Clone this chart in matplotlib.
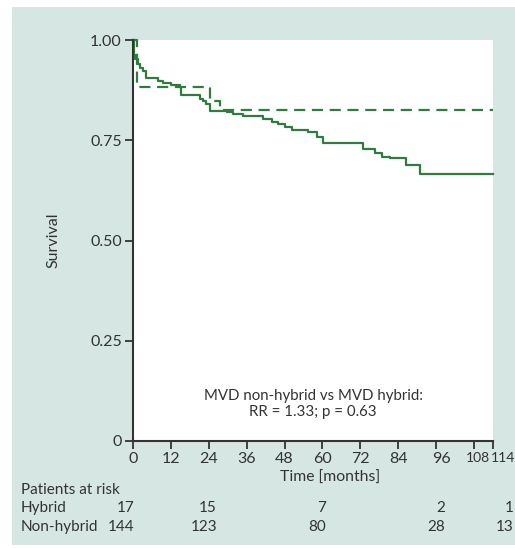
import matplotlib.pyplot as plt
from matplotlib.patches import Rectangle
from matplotlib.transforms import ScaledTranslation

# Kaplan-Meier steps: (time in months, survival after the step)
nonhybrid_t = [0, 0.2, 0.7, 1.6, 2.1, 3.2, 4.2, 7.9, 9.5, 12.1, 14.8, 15.3, 21.1, 22.2,
               23.2, 24.3, 29.7, 31.8, 34.9, 41.3, 43.9, 46.0, 48.1, 50.2, 55.5, 58.2,
               60.3, 72.9, 76.6, 78.7, 81.3, 86.6, 90.8, 114]
nonhybrid_s = [1.0, 0.963, 0.952, 0.939, 0.931, 0.923, 0.906, 0.898, 0.894, 0.887, 0.882,
               0.862, 0.854, 0.848, 0.840, 0.823, 0.820, 0.816, 0.810, 0.803, 0.796, 0.790,
               0.784, 0.776, 0.770, 0.759, 0.742, 0.727, 0.719, 0.709, 0.705, 0.688, 0.666,
               0.666]
hybrid_t = [0, 1.3, 24.3, 27.5, 114]
hybrid_s = [1.0, 0.882, 0.848, 0.825, 0.825]

x_ticks = [0, 12, 24, 36, 48, 60, 72, 84, 96, 108, 114]
y_ticks = [0, 0.25, 0.5, 0.75, 1.0]
y_ticklabels = ["0", "0.25", "0.50", "0.75", "1.00"]

risk_groups = ["Hybrid", "Non-hybrid"]
risk_hybrid = [17, 15, 7, 2, 1]
risk_nonhybrid = [144, 123, 80, 28, 13]
risk_x = [0.6, 26.6, 61.1, 98.8, 120.6]  # right edge of each column, in months

GREEN = "#2f7d3c"
TEXT = "#333333"
TEAL = "#d6e6e3"

plt.rcParams["font.family"] = ["Lato", "DejaVu Sans"]
plt.rcParams["font.size"] = 11

fig = plt.figure(figsize=(5.15, 5.48), dpi=100, facecolor="white")
fig.patches.append(Rectangle((12 / 515, 3 / 548), 1 - 12 / 515, 538 / 548,
                             transform=fig.transFigure, facecolor=TEAL,
                             edgecolor="none", zorder=-10))

ax = fig.add_axes([133 / 515, 107 / 548, 360 / 515, 401 / 548])
ax.set_facecolor("white")

ax.step(nonhybrid_t, nonhybrid_s, where="post", color=GREEN, lw=1.6, clip_on=False)
ax.step(hybrid_t, hybrid_s, where="post", color=GREEN, lw=1.6, ls=(0, (5, 3)),
        clip_on=False)

ax.set_xlim(0, 114)
ax.set_ylim(0, 1.0)
ax.set_xticks(x_ticks)
ax.set_yticks(y_ticks)
ax.set_yticklabels(y_ticklabels)
ax.tick_params(direction="out", length=6, width=1.3, colors=TEXT, labelsize=11.5, pad=2)

# the last labels sit tight together; nudge them right like the original
xlabels = ax.get_xticklabels()
for lab, dx in zip(xlabels[-3:], [5, 4, 10]):
    lab.set_transform(lab.get_transform() + ScaledTranslation(dx / 100, 0, fig.dpi_scale_trans))
for lab in xlabels[-2:]:
    lab.set_fontsize(10)

for side in ["top", "right"]:
    ax.spines[side].set_visible(False)
for side in ["left", "bottom"]:
    ax.spines[side].set_color(TEXT)
    ax.spines[side].set_linewidth(1.5)

fig.text(53 / 515, 1 - 240 / 548, "Survival", rotation=90, ha="center", va="center",
         color=TEXT, fontsize=11.5)
fig.text(330 / 515, 1 - 478 / 548, "Time [months]", ha="center", va="center",
         color=TEXT, fontsize=11.3)

ax.text(57, 0.092, "MVD non-hybrid vs MVD hybrid:\nRR = 1.33; p = 0.63",
        ha="center", va="center", color=TEXT, fontsize=10.8, linespacing=1.2)

# patients at risk table
fig.text(21 / 515, 1 - 490 / 548, "Patients at risk", ha="left", va="center",
         color=TEXT, fontsize=11)
row_y = [1 - 508 / 548, 1 - 527 / 548]
for name, counts, y in zip(risk_groups, [risk_hybrid, risk_nonhybrid], row_y):
    fig.text(21 / 515, y, name, ha="left", va="center", color=TEXT, fontsize=11)
    for xm, n in zip(risk_x, counts):
        xf = (133 + xm * 360 / 114) / 515
        fig.text(xf, y, str(n), ha="right", va="center", color=TEXT, fontsize=11)

fig.savefig("out.png", dpi=100, facecolor=fig.get_facecolor())
